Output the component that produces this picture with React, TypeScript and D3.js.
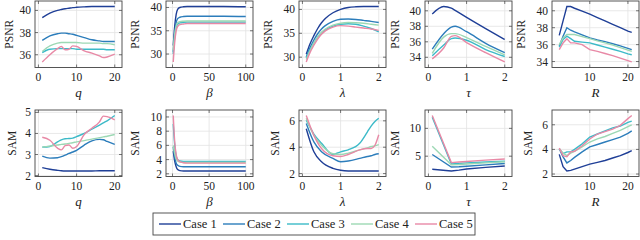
import React from "react";
import * as d3 from "d3";

const cases = ["Case 1", "Case 2", "Case 3", "Case 4", "Case 5"];
const colors = ["#1f3f97", "#2c7dbb", "#3cbac8", "#9cd8b4", "#e889a6"];

// x values
const qVals = [1, 3, 5, 6, 7, 8, 9, 10, 12, 14, 16, 17, 18, 20];
const betaVals = [1, 3, 5, 7, 10, 15, 20, 30, 50, 70, 100];
const lambdaPsnrVals = [0.1, 0.2, 0.3, 0.4, 0.5, 0.6, 0.8, 1.0, 1.2, 1.4, 1.6, 1.8, 2.0];
const lambdaSamVals = [0.1, 0.3, 0.5, 0.8, 1.0, 1.2, 1.5, 1.7, 1.8, 1.9, 2.0];
const tauPsnrVals = [0.1, 0.4, 0.6, 0.7, 1.0, 1.5, 2.0];
const tauSamVals = [0.1, 0.6, 0.8, 1.0, 1.5, 2.0];
const rVals = [2, 3, 4, 5, 6, 8, 10, 12, 14, 16, 18, 20, 21];

// PSNR (top row)
const psnrQ = [
  [39.35, 39.75, 40.0, 40.08, 40.15, 40.2, 40.25, 40.28, 40.32, 40.35, 40.35, 40.35, 40.35, 40.35],
  [37.3, 37.7, 37.9, 37.95, 37.95, 37.9, 37.85, 37.75, 37.55, 37.35, 37.25, 37.2, 37.2, 37.2],
  [36.2, 36.5, 36.55, 36.55, 36.55, 36.55, 36.55, 36.5, 36.5, 36.5, 36.5, 36.5, 36.45, 36.45],
  [36.3, 36.8, 37.05, 37.1, 37.1, 37.1, 37.1, 37.1, 37.05, 37.05, 37.05, 37.0, 37.0, 36.9],
  [35.35, 36.0, 36.55, 36.75, 36.45, 36.5, 36.8, 36.75, 36.35, 36.15, 35.9, 35.75, 35.8, 36.05],
];
const psnrBeta = [
  [31.8, 36.0, 38.5, 39.6, 40.0, 40.15, 40.2, 40.2, 40.2, 40.2, 40.15],
  [30.5, 34.5, 36.8, 37.6, 37.9, 38.05, 38.1, 38.1, 38.1, 38.1, 38.05],
  [30.0, 33.8, 35.8, 36.4, 36.7, 36.8, 36.85, 36.85, 36.85, 36.85, 36.85],
  [30.8, 34.3, 36.1, 36.7, 36.95, 37.05, 37.1, 37.1, 37.1, 37.1, 37.1],
  [28.3, 32.5, 35.0, 35.9, 36.3, 36.45, 36.55, 36.55, 36.55, 36.55, 36.55],
];
const psnrLambda = [
  [30.6, 32.8, 34.5, 36.0, 37.2, 38.1, 39.3, 40.0, 40.4, 40.55, 40.6, 40.6, 40.6],
  [30.0, 32.0, 33.6, 34.9, 35.9, 36.6, 37.5, 37.95, 38.0, 37.9, 37.7, 37.5, 37.25],
  [29.8, 31.6, 33.0, 34.2, 35.1, 35.7, 36.5, 36.9, 37.0, 36.9, 36.5, 36.0, 35.3],
  [29.5, 31.4, 33.0, 34.2, 35.2, 35.9, 36.7, 37.1, 37.25, 37.2, 37.1, 36.9, 36.7],
  [29.0, 31.0, 32.5, 33.8, 34.8, 35.5, 36.3, 36.6, 36.5, 36.3, 36.1, 35.9, 35.6],
];
const psnrTau = [
  [39.6, 40.55, 40.35, 40.05, 39.15, 37.7, 36.3],
  [35.05, 37.05, 37.9, 38.0, 37.3, 35.8, 34.6],
  [34.2, 35.6, 36.4, 36.5, 36.2, 35.0, 34.1],
  [34.5, 36.6, 37.05, 37.05, 36.55, 35.4, 34.3],
  [33.8, 35.2, 36.7, 36.8, 35.9, 34.6, 33.4],
];
const psnrR = [
  [37.1, 38.8, 40.5, 40.5, 40.3, 39.95, 39.6, 39.2, 38.8, 38.4, 38.0, 37.6, 37.45],
  [35.8, 37.0, 38.0, 37.7, 37.5, 37.15, 36.8, 36.55, 36.35, 36.1, 35.85, 35.55, 35.4],
  [35.7, 36.6, 37.0, 36.7, 36.4, 36.3, 36.2, 35.95, 35.7, 35.45, 35.2, 34.9, 34.8],
  [36.0, 36.8, 37.2, 37.2, 37.2, 36.95, 36.7, 36.45, 36.2, 35.95, 35.65, 35.35, 35.2],
  [35.4, 36.2, 36.7, 36.2, 36.2, 36.0, 35.4, 35.2, 34.95, 34.7, 34.4, 34.1, 33.95],
];

// SAM (bottom row)
const samQ = [
  [2.38, 2.3, 2.25, 2.23, 2.22, 2.22, 2.22, 2.22, 2.22, 2.22, 2.23, 2.23, 2.23, 2.23],
  [2.92, 2.83, 2.85, 2.9, 2.97, 3.05, 3.12, 3.2, 3.45, 3.65, 3.72, 3.7, 3.62, 3.48],
  [3.35, 3.38, 3.6, 3.7, 3.75, 3.76, 3.78, 3.85, 4.0, 4.2, 4.4, 4.5, 4.6, 4.85],
  [3.35, 3.4, 3.45, 3.48, 3.5, 3.53, 3.56, 3.6, 3.66, 3.73, 3.8, 3.84, 3.87, 3.95],
  [3.82, 3.68, 3.3, 3.22, 3.42, 3.45, 3.3, 3.38, 3.95, 4.25, 4.55, 4.82, 4.8, 4.65],
];
const samBeta = [
  [5.2, 3.8, 3.0, 2.6, 2.45, 2.4, 2.4, 2.4, 2.4, 2.4, 2.4],
  [5.8, 4.3, 3.5, 3.2, 3.05, 3.0, 3.0, 3.0, 3.0, 3.0, 3.0],
  [9.0, 6.0, 4.5, 4.0, 3.8, 3.75, 3.75, 3.75, 3.75, 3.75, 3.75],
  [6.0, 4.8, 4.1, 3.8, 3.65, 3.6, 3.6, 3.6, 3.6, 3.6, 3.6],
  [10.2, 6.5, 4.7, 4.0, 3.7, 3.55, 3.5, 3.5, 3.5, 3.5, 3.5],
];
const samLambda = [
  [5.4, 3.65, 2.9, 2.4, 2.25, 2.2, 2.2, 2.2, 2.2, 2.2, 2.2],
  [5.8, 4.4, 3.65, 3.15, 2.9, 2.95, 3.15, 3.3, 3.35, 3.45, 3.5],
  [6.05, 5.0, 4.3, 3.45, 3.65, 3.8, 4.3, 5.15, 5.6, 5.95, 6.2],
  [6.2, 4.9, 4.15, 3.5, 3.45, 3.55, 3.8, 3.95, 4.05, 4.1, 4.2],
  [6.4, 4.9, 3.9, 3.35, 3.3, 3.45, 3.8, 3.9, 3.9, 4.15, 4.95],
];
const samTau = [
  [2.65, 2.35, 2.5, 2.7, 3.0, 3.25],
  [5.3, 3.05, 3.1, 3.2, 3.45, 3.7],
  [12.0, 3.6, 3.7, 3.8, 3.95, 4.1],
  [6.8, 3.45, 3.5, 3.6, 3.8, 4.0],
  [12.3, 3.85, 3.95, 4.05, 4.3, 4.5],
];
const samR = [
  [3.6, 2.6, 2.25, 2.3, 2.4, 2.6, 2.8, 2.95, 3.1, 3.3, 3.5, 3.75, 3.9],
  [4.05, 3.4, 2.9, 3.1, 3.35, 3.8, 4.2, 4.4, 4.6, 4.8, 5.0, 5.3, 5.5],
  [4.05, 3.65, 3.8, 3.8, 4.0, 4.45, 5.0, 5.25, 5.5, 5.75, 5.9, 6.2, 6.3],
  [4.05, 3.7, 3.5, 3.7, 3.85, 4.2, 4.6, 4.85, 5.05, 5.3, 5.55, 5.85, 6.0],
  [4.1, 3.5, 3.4, 3.8, 3.85, 4.3, 4.85, 5.25, 5.45, 5.65, 5.95, 6.5, 6.75],
];

const panelLefts = [35, 166, 299, 425, 552];
const panelW = 87;
const rowTops = [1, 110];
const panelH = 66.5;
const topLabelX = [9, 135, 268, 395, 521];
const bottomLabelX = [12, 135, 275, 395, 528];

const serif = "Liberation Serif, DejaVu Serif, serif";

type Panel = {
  xs: number[];
  series: number[][];
  xTicks: number[];
  yTicks: number[];
  xLabel: string;
  yLabel: string;
  linear?: boolean;
};

const topPanels: Panel[] = [
  { xs: qVals, series: psnrQ, xTicks: [0, 10, 20], yTicks: [36, 38, 40], xLabel: "q", yLabel: "PSNR" },
  { xs: betaVals, series: psnrBeta, xTicks: [0, 50, 100], yTicks: [30, 35, 40], xLabel: "β", yLabel: "PSNR" },
  { xs: lambdaPsnrVals, series: psnrLambda, xTicks: [0, 1, 2], yTicks: [30, 35, 40], xLabel: "λ", yLabel: "PSNR" },
  { xs: tauPsnrVals, series: psnrTau, xTicks: [0, 1, 2], yTicks: [34, 36, 38, 40], xLabel: "τ", yLabel: "PSNR" },
  { xs: rVals, series: psnrR, xTicks: [10, 20], yTicks: [34, 36, 38, 40], xLabel: "R", yLabel: "PSNR", linear: true },
];
const bottomPanels: Panel[] = [
  { xs: qVals, series: samQ, xTicks: [0, 10, 20], yTicks: [2, 3, 4, 5], xLabel: "q", yLabel: "SAM" },
  { xs: betaVals, series: samBeta, xTicks: [0, 50, 100], yTicks: [2, 4, 6, 8, 10], xLabel: "β", yLabel: "SAM" },
  { xs: lambdaSamVals, series: samLambda, xTicks: [0, 1, 2], yTicks: [2, 4, 6], xLabel: "λ", yLabel: "SAM" },
  { xs: tauSamVals, series: samTau, xTicks: [0, 1, 2], yTicks: [5, 10], xLabel: "τ", yLabel: "SAM", linear: true },
  { xs: rVals, series: samR, xTicks: [10, 20], yTicks: [2, 4, 6], xLabel: "R", yLabel: "SAM", linear: true },
];

// pgfplots-like: enlarge limits by 10% of the data range
function enlarge(vals: number[]): [number, number] {
  const [lo, hi] = d3.extent(vals) as [number, number];
  const pad = (hi - lo) * 0.1;
  return [lo - pad, hi + pad];
}

function Plot({ p, left, top, labelX }: { p: Panel; left: number; top: number; labelX: number }) {
  const x = d3.scaleLinear().domain(enlarge(p.xs)).range([left, left + panelW]);
  const y = d3.scaleLinear().domain(enlarge(p.series.flat())).range([top + panelH, top]);
  const line = d3
    .line<number>()
    .x((_, i) => x(p.xs[i]))
    .y((d) => y(d))
    .curve(p.linear ? d3.curveLinear : d3.curveMonotoneX);
  const bottom = top + panelH;
  const right = left + panelW;
  const clipId = `clip-${left}-${top}`;
  const txt = { fontFamily: serif, fill: "#222" };
  return (
    <g>
      <clipPath id={clipId}>
        <rect x={left} y={top} width={panelW} height={panelH} />
      </clipPath>
      {p.xTicks.map((t) => (
        <line key={"gx" + t} x1={x(t)} x2={x(t)} y1={top} y2={bottom} stroke="#e3e3e3" strokeWidth={0.8} />
      ))}
      {p.yTicks.map((t) => (
        <line key={"gy" + t} x1={left} x2={right} y1={y(t)} y2={y(t)} stroke="#e3e3e3" strokeWidth={0.8} />
      ))}
      <g clipPath={`url(#${clipId})`}>
        {p.series.map((s, i) => (
          <path key={i} d={line(s) || ""} fill="none" stroke={colors[i]} strokeWidth={1.4} />
        ))}
      </g>
      {p.xTicks.map((t) => (
        <g key={"tx" + t}>
          <line x1={x(t)} x2={x(t)} y1={bottom} y2={bottom - 3} stroke="#555" strokeWidth={0.8} />
          <line x1={x(t)} x2={x(t)} y1={top} y2={top + 3} stroke="#555" strokeWidth={0.8} />
          <text x={x(t)} y={bottom + 13} textAnchor="middle" fontSize={11.5} style={txt}>
            {t}
          </text>
        </g>
      ))}
      {p.yTicks.map((t) => (
        <g key={"ty" + t}>
          <line x1={left} x2={left + 3} y1={y(t)} y2={y(t)} stroke="#555" strokeWidth={0.8} />
          <line x1={right} x2={right - 3} y1={y(t)} y2={y(t)} stroke="#555" strokeWidth={0.8} />
          <text x={left - 4} y={y(t)} dy="0.35em" textAnchor="end" fontSize={11.5} style={txt}>
            {t}
          </text>
        </g>
      ))}
      <rect x={left} y={top} width={panelW} height={panelH} fill="none" stroke="#444" strokeWidth={0.9} />
      <text
        x={(left + right) / 2}
        y={bottom + 29}
        textAnchor="middle"
        fontStyle="italic"
        fontSize={13}
        style={txt}
      >
        {p.xLabel}
      </text>
      <text
        transform={`translate(${labelX},${(top + bottom) / 2}) rotate(-90)`}
        textAnchor="middle"
        dy="0.35em"
        fontSize={11.5}
        style={txt}
      >
        {p.yLabel}
      </text>
    </g>
  );
}

export default function App() {
  const legendX = 153;
  const legendW = 322;
  const legendY = 213;
  const legendH = 22;
  return (
    <svg width={640} height={240} style={{ position: "absolute", left: 0, top: 0, background: "#fff" }}>
      {topPanels.map((p, i) => (
        <Plot key={"t" + i} p={p} left={panelLefts[i]} top={rowTops[0]} labelX={topLabelX[i]} />
      ))}
      {bottomPanels.map((p, i) => (
        <Plot key={"b" + i} p={p} left={panelLefts[i]} top={rowTops[1]} labelX={bottomLabelX[i]} />
      ))}
      <rect x={legendX} y={legendY} width={legendW} height={legendH} fill="#fff" stroke="#444" strokeWidth={0.9} />
      {cases.map((c, i) => {
        const x0 = legendX + 6 + i * 64;
        const cy = legendY + legendH / 2;
        return (
          <g key={c}>
            <line x1={x0} x2={x0 + 22} y1={cy} y2={cy} stroke={colors[i]} strokeWidth={1.4} />
            <text x={x0 + 24} y={cy} dy="0.35em" fontSize={12.5} style={{ fontFamily: serif, fill: "#222" }}>
              {c}
            </text>
          </g>
        );
      })}
    </svg>
  );
}
